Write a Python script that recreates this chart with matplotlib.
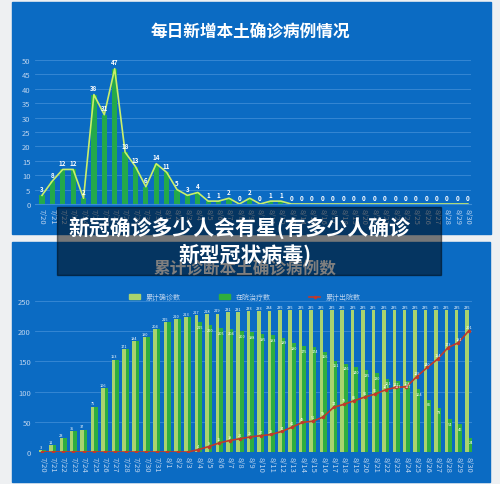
import matplotlib.pyplot as plt
from matplotlib.patches import Rectangle
from matplotlib.lines import Line2D

plt.rcParams['font.family'] = ['Noto Sans CJK SC', 'DejaVu Sans']

# dates 7/20 .. 8/30
dates = ['7/%d' % d for d in range(20, 32)] + ['8/%d' % d for d in range(1, 31)]

# daily new local cases
daily_new = [3, 8, 12, 12, 2, 38, 31, 47, 18, 13, 6, 14, 11, 5, 3, 4, 1, 1, 2, 0, 2, 0, 1, 1,
             0, 0, 0, 0, 0, 0, 0, 0, 0, 0, 0, 0, 0, 0, 0, 0, 0, 0]

# cumulative confirmed / in hospital / cumulative discharged
cumulative = [3, 11, 23, 35, 37, 75, 106, 153, 171, 184, 190, 204, 215, 220, 223, 227, 228, 229,
              231, 231, 233, 233, 234, 235, 235, 235, 235, 235, 235, 235, 235, 235, 235, 235,
              235, 235, 235, 235, 235, 235, 235, 235]
in_hospital = [3, 11, 23, 35, 37, 75, 106, 153, 171, 184, 190, 204, 215, 220, 223, 215, 210, 205,
               204, 200, 198, 195, 193, 189, 180, 175, 174, 166, 151, 146, 140, 135, 130, 121,
               117, 117, 104, 86, 73, 54, 46, 24]
discharged = [0, 0, 0, 0, 0, 0, 0, 0, 0, 0, 0, 0, 0, 0, 0, 4, 9, 15, 19, 22, 25, 27, 29, 34,
              41, 49, 51, 58, 74, 79, 85, 91, 96, 103, 107, 108, 125, 140, 154, 173, 181, 201]

W, H = 500, 485
BLUE = '#0b6bc3'
GRID = '#3b8bd6'
TICK = '#bcd3ee'


def rect(l, t, r, b):
    return [l / W, 1 - b / H, (r - l) / W, (b - t) / H]


fig = plt.figure(figsize=(W / 100, H / 100), dpi=100)
fig.patch.set_facecolor('#eef0f2')

# blue panels
for (l, t, r, b) in [(12, 3, 491, 235), (12, 243, 490, 483)]:
    fig.add_artist(Rectangle((l / W, 1 - b / H), (r - l) / W, (b - t) / H,
                             transform=fig.transFigure, color=BLUE, zorder=0))

x = list(range(len(dates)))

# ---- top chart: daily new cases
ax1 = fig.add_axes(rect(34.7, 61, 471, 205))
ax1.set_facecolor('none')
ax1.bar(x, daily_new, width=0.5, color='#23a94b', zorder=2)
ax1.plot(x, daily_new, color='#c9ef6a', lw=1.2, zorder=3)
for xi, v in zip(x, daily_new):
    ax1.text(xi, v + 1.2, str(v), color='white', fontsize=4.5, fontweight='bold',
             ha='center', va='bottom', zorder=4)
ax1.set_xlim(-0.7, 41.3)
ax1.set_ylim(0, 50)
ax1.set_yticks(range(0, 51, 5))
ax1.set_xticks(x)
ax1.set_xticklabels(dates, rotation=-90)
ax1.grid(axis='y', color=GRID, lw=0.6, zorder=1)
ax1.set_axisbelow(True)
ax1.tick_params(length=0, colors=TICK, labelsize=5.5, pad=3)
for s in ax1.spines.values():
    s.set_visible(False)
ax1.spines['bottom'].set_visible(True)
ax1.spines['bottom'].set_color(GRID)

fig.text(250 / W, 1 - 32 / H, '每日新增本土确诊病例情况', color='white', fontsize=12,
         fontweight='bold', ha='center', va='center')

# ---- bottom chart: cumulative
ax2 = fig.add_axes(rect(35, 302, 472, 453))
ax2.set_facecolor('none')
xl = [xi - 0.17 for xi in x]
xr = [xi + 0.17 for xi in x]
ax2.bar(xl, cumulative, width=0.34, color='#a9d36e', zorder=2)
ax2.bar(xr, in_hospital, width=0.34, color='#2fae3f', zorder=2)
ax2.plot(x, discharged, color='#c0392b', lw=1.2, marker='o', ms=1.5, zorder=3)
for xi, c, h, d in zip(x, cumulative, in_hospital, discharged):
    ax2.text(xi - 0.17, c + 2, str(c), color='white', fontsize=2.8, ha='center',
             va='bottom', zorder=4)
    if h != c:
        ax2.text(xi + 0.17, h - 4, str(h), color='white', fontsize=2.8, ha='center',
                 va='top', zorder=4)
    if d > 0:
        ax2.text(xi, d + 3, str(d), color='white', fontsize=2.8, ha='center',
                 va='bottom', zorder=4)
ax2.set_xlim(-0.7, 41.3)
ax2.set_ylim(0, 250)
ax2.set_yticks(range(0, 251, 50))
ax2.set_xticks(x)
ax2.set_xticklabels(dates, rotation=-90)
ax2.grid(axis='y', color=GRID, lw=0.6, zorder=1)
ax2.set_axisbelow(True)
ax2.tick_params(length=0, colors=TICK, labelsize=5.5, pad=3)
for s in ax2.spines.values():
    s.set_visible(False)

handles = [Rectangle((0, 0), 1, 1, color='#a9d36e'),
           Rectangle((0, 0), 1, 1, color='#2fae3f'),
           Line2D([], [], color='#c0392b', lw=1.2, marker='o', ms=1.5)]
ax2.legend(handles, ['累计确诊数', '在院治疗数', '累计出院数'], ncol=3, frameon=False,
           loc='center', bbox_to_anchor=(245 / W, 1 - 298 / H),
           bbox_transform=fig.transFigure, fontsize=5, labelcolor=TICK,
           handlelength=1.6, handleheight=0.6, columnspacing=5.5)

fig.text(245 / W, 1 - 269 / H, '累计诊断本土确诊病例数', color='white', fontsize=12,
         fontweight='bold', ha='center', va='center')

# ---- overlay banner
fig.add_artist(Rectangle((57 / W, 1 - 276 / H), (441 - 57) / W, (276 - 208) / H,
                         transform=fig.transFigure, color='black', alpha=0.5, zorder=10))
fig.text(239 / W, 1 - 228 / H, '新冠确诊多少人会有星(有多少人确诊', color='white',
         fontsize=15, fontweight='bold', ha='center', va='center', zorder=11)
fig.text(245 / W, 1 - 255 / H, '新型冠状病毒)', color='white',
         fontsize=15, fontweight='bold', ha='center', va='center', zorder=11)

fig.savefig('out.png', dpi=100, facecolor=fig.get_facecolor())
